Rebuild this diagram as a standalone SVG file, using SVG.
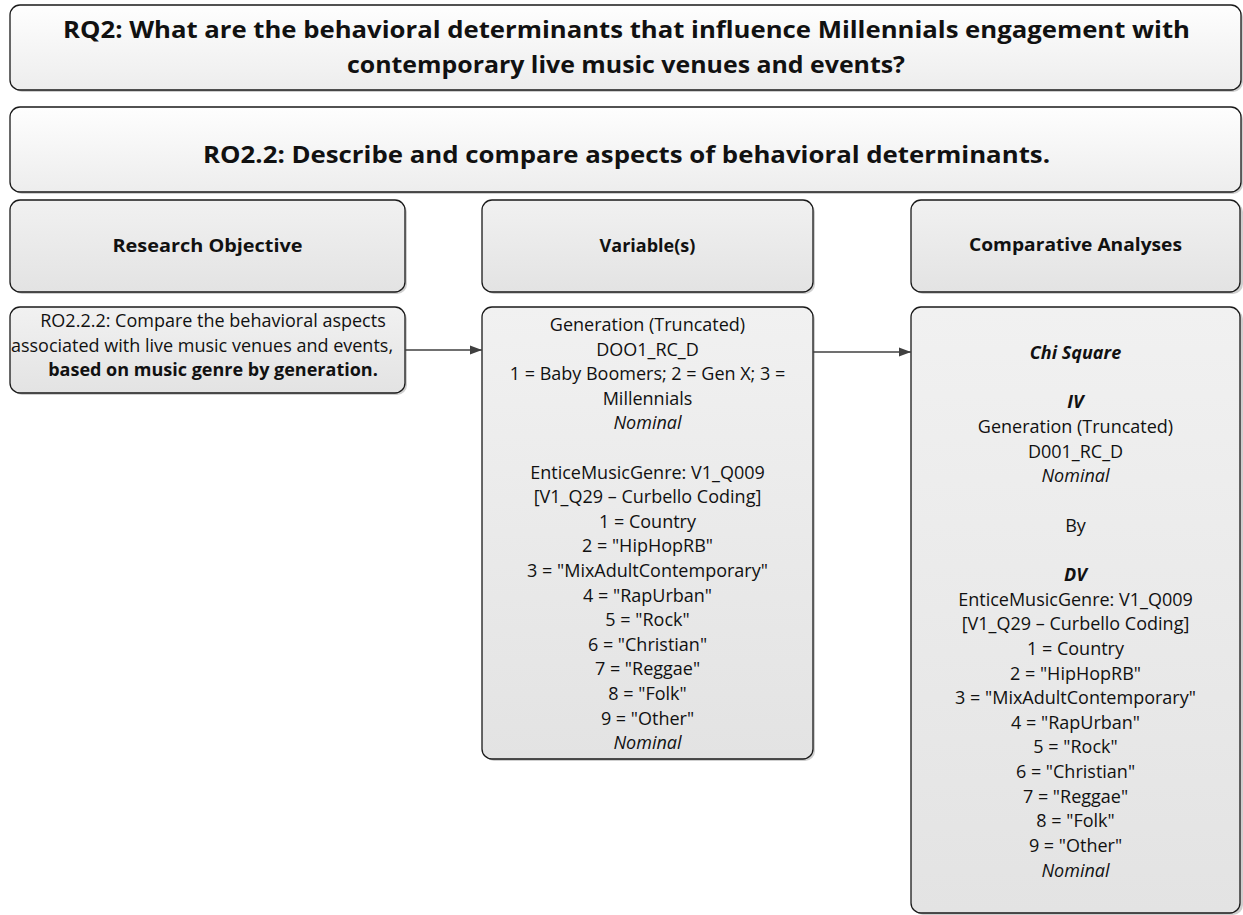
<svg xmlns="http://www.w3.org/2000/svg" width="1243" height="915" viewBox="0 0 1243 915">
  <defs>
    <linearGradient id="gTitle" x1="0" y1="0" x2="0" y2="1">
      <stop offset="0" stop-color="#fefefe"/>
      <stop offset="1" stop-color="#ededed"/>
    </linearGradient>
    <linearGradient id="gBox" x1="0" y1="0" x2="0" y2="1">
      <stop offset="0" stop-color="#f1f1f1"/>
      <stop offset="1" stop-color="#e3e3e3"/>
    </linearGradient>
    <marker id="arrow" viewBox="0 0 12 10" refX="12" refY="5" markerWidth="12" markerHeight="10" markerUnits="userSpaceOnUse" orient="auto">
      <path d="M0,0.5 L12,5 L0,9.5 Z" fill="#404040"/>
    </marker>
    <style>
      .shadow { fill: #cfcfcf; }
      .title { fill: url(#gTitle); stroke: #1a1a1a; stroke-width: 1.3; }
      .box { fill: url(#gBox); stroke: #1a1a1a; stroke-width: 1.3; }
      text { font-family: "Open Sans", "Noto Sans", "Liberation Sans", sans-serif; fill: #111; text-anchor: middle; }
      .h1 { font-size: 24px; font-weight: bold; }
      .h2 { font-size: 18px; font-weight: bold; }
      .t { font-size: 18px; }
      .b { font-weight: bold; }
      .i { font-style: italic; }
      .conn { stroke: #404040; stroke-width: 1.5; fill: none; }
    </style>
  </defs>

  <!-- research question banner -->
  <g id="rq2">
    <rect class="shadow" x="12" y="7" width="1231" height="85" rx="10"/>
    <rect class="title" x="10" y="5" width="1231" height="85" rx="10"/>
    <text class="h1" x="626.5" y="38" textLength="1127" lengthAdjust="spacingAndGlyphs">RQ2: What are the behavioral determinants that influence Millennials engagement with</text>
    <text class="h1" x="626" y="73" textLength="558" lengthAdjust="spacingAndGlyphs">contemporary live music venues and events?</text>
  </g>

  <!-- objective banner -->
  <g id="ro22">
    <rect class="shadow" x="12" y="109" width="1231" height="85" rx="10"/>
    <rect class="title" x="10" y="107" width="1231" height="85" rx="10"/>
    <text class="h1" x="626.5" y="163" textLength="847" lengthAdjust="spacingAndGlyphs">RO2.2: Describe and compare aspects of behavioral determinants.</text>
  </g>

  <!-- column headers -->
  <g id="hdr-objective">
    <rect class="shadow" x="12" y="202" width="395" height="92" rx="10"/>
    <rect class="box" x="10" y="200" width="395" height="92" rx="10"/>
    <text class="h2" x="207.5" y="252" textLength="190" lengthAdjust="spacingAndGlyphs">Research Objective</text>
  </g>
  <g id="hdr-variables">
    <rect class="shadow" x="484" y="202" width="331" height="92" rx="10"/>
    <rect class="box" x="482" y="200" width="331" height="92" rx="10"/>
    <text class="h2" x="647.5" y="252">Variable(s)</text>
  </g>
  <g id="hdr-analyses">
    <rect class="shadow" x="913" y="202" width="330" height="92" rx="10"/>
    <rect class="box" x="911" y="200" width="329" height="92" rx="10"/>
    <text class="h2" x="1075.5" y="251" textLength="213" lengthAdjust="spacingAndGlyphs">Comparative Analyses</text>
  </g>

  <!-- objective detail -->
  <g id="ro222">
    <rect class="shadow" x="12" y="309" width="395" height="86" rx="10"/>
    <rect class="box" x="10" y="307" width="395" height="86" rx="10"/>
    <text class="t" x="213" y="327">RO2.2.2: Compare the behavioral aspects</text>
    <text class="t" x="202" y="351.5">associated with live music venues and events,</text>
    <text class="t b" x="213" y="376">based on music genre by generation.</text>
  </g>

  <!-- variables detail -->
  <g id="variables">
    <rect class="shadow" x="484" y="309" width="331" height="452" rx="10"/>
    <rect class="box" x="482" y="307" width="331" height="452" rx="10"/>
    <text class="t" x="647.5" y="331">Generation (Truncated)</text>
    <text class="t" x="647.5" y="355.6">DOO1_RC_D</text>
    <text class="t" x="647.5" y="380.2">1 = Baby Boomers; 2 = Gen X; 3 =</text>
    <text class="t" x="647.5" y="404.8">Millennials</text>
    <text class="t i" x="647.5" y="429.4">Nominal</text>
    <text class="t" x="647.5" y="478.6">EnticeMusicGenre: V1_Q009</text>
    <text class="t" x="647.5" y="503.2">[V1_Q29 – Curbello Coding]</text>
    <text class="t" x="647.5" y="527.8">1 = Country</text>
    <text class="t" x="647.5" y="552.4">2 = "HipHopRB"</text>
    <text class="t" x="647.5" y="577">3 = "MixAdultContemporary"</text>
    <text class="t" x="647.5" y="601.6">4 = "RapUrban"</text>
    <text class="t" x="647.5" y="626.2">5 = "Rock"</text>
    <text class="t" x="647.5" y="650.8">6 = "Christian"</text>
    <text class="t" x="647.5" y="675.4">7 = "Reggae"</text>
    <text class="t" x="647.5" y="700">8 = "Folk"</text>
    <text class="t" x="647.5" y="724.6">9 = "Other"</text>
    <text class="t i" x="647.5" y="749.2">Nominal</text>
  </g>

  <!-- analyses detail -->
  <g id="analyses">
    <rect class="shadow" x="913" y="309" width="330" height="606" rx="10"/>
    <rect class="box" x="911" y="307" width="329" height="606" rx="10"/>
    <text class="t b i" x="1075.5" y="359">Chi Square</text>
    <text class="t b i" x="1075.5" y="408.3">IV</text>
    <text class="t" x="1075.5" y="433">Generation (Truncated)</text>
    <text class="t" x="1075.5" y="457.6">D001_RC_D</text>
    <text class="t i" x="1075.5" y="482.3">Nominal</text>
    <text class="t" x="1075.5" y="531.6">By</text>
    <text class="t b i" x="1075.5" y="580.9">DV</text>
    <text class="t" x="1075.5" y="605.5">EnticeMusicGenre: V1_Q009</text>
    <text class="t" x="1075.5" y="630.2">[V1_Q29 – Curbello Coding]</text>
    <text class="t" x="1075.5" y="654.8">1 = Country</text>
    <text class="t" x="1075.5" y="679.5">2 = "HipHopRB"</text>
    <text class="t" x="1075.5" y="704.1">3 = "MixAdultContemporary"</text>
    <text class="t" x="1075.5" y="728.8">4 = "RapUrban"</text>
    <text class="t" x="1075.5" y="753.4">5 = "Rock"</text>
    <text class="t" x="1075.5" y="778.1">6 = "Christian"</text>
    <text class="t" x="1075.5" y="802.7">7 = "Reggae"</text>
    <text class="t" x="1075.5" y="827.4">8 = "Folk"</text>
    <text class="t" x="1075.5" y="852">9 = "Other"</text>
    <text class="t i" x="1075.5" y="876.7">Nominal</text>
  </g>

  <!-- connectors -->
  <g id="connectors">
    <line class="conn" x1="405" y1="350" x2="482" y2="350" marker-end="url(#arrow)"/>
    <line class="conn" x1="813" y1="352" x2="911" y2="352" marker-end="url(#arrow)"/>
  </g>
</svg>
